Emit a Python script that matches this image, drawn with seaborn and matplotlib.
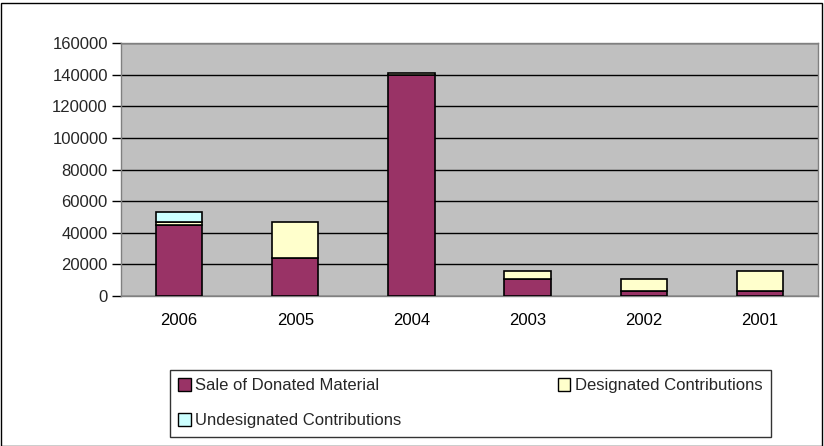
import matplotlib
matplotlib.use("Agg")
import matplotlib.pyplot as plt
import seaborn as sns
import pandas as pd
from matplotlib.patches import Patch, Rectangle

years = ["2006", "2005", "2004", "2003", "2002", "2001"]
sale_donated = [45000, 24000, 139500, 11000, 3000, 3000]
designated = [2000, 23000, 1500, 4500, 8000, 13000]
undesignated = [6000, 0, 0, 0, 0, 0]
y_ticks = [0, 20000, 40000, 60000, 80000, 100000, 120000, 140000, 160000]

sns.set_theme(style="white")
plt.rcParams["font.family"] = ["Liberation Sans", "DejaVu Sans"]

W, H = 824, 446
fig = plt.figure(figsize=(W / 100, H / 100), dpi=100)
ax = fig.add_axes([121 / W, 1 - 296 / H, 697 / W, (296 - 43) / H])

df = pd.DataFrame({"year": years, "sale": sale_donated,
                   "des": designated, "undes": undesignated})
bottom2 = [a + b for a, b in zip(sale_donated, designated)]

colors = {"sale": "#993366", "des": "#FFFFCC", "undes": "#CCFFFF"}
sns.barplot(data=df, x="year", y="sale", order=years, color=colors["sale"],
            width=0.4, edgecolor="black", linewidth=1.2, saturation=1, ax=ax, zorder=3)
sns.barplot(data=df, x="year", y="des", order=years, color=colors["des"],
            bottom=sale_donated, width=0.4, edgecolor="black", linewidth=1.2,
            saturation=1, ax=ax, zorder=3)
sns.barplot(data=df, x="year", y="undes", order=years, color=colors["undes"],
            bottom=bottom2, width=0.4, edgecolor="black", linewidth=1.2,
            saturation=1, ax=ax, zorder=3)
for p in ax.patches:
    if p.get_height() == 0:
        p.set_visible(False)

ax.set_facecolor("#C0C0C0")
ax.set_xlim(-0.5, len(years) - 0.5)
ax.set_ylim(0, 160000)
ax.set_yticks(y_ticks)
ax.set_yticklabels([str(t) for t in y_ticks])
ax.yaxis.grid(True, color="black", linewidth=1, zorder=1)
ax.set_axisbelow(True)
ax.set_xlabel("")
ax.set_ylabel("")

ax.set_xticks(range(len(years)))
ax.set_xticklabels(years)
ax.tick_params(axis="x", which="major", length=0, pad=12, labelsize=12, colors="black")
ax.set_xticks([i - 0.5 for i in range(len(years) + 1)], minor=True)
ax.tick_params(axis="x", which="minor", length=5, width=1, color="black", direction="out")
ax.tick_params(axis="y", length=6.5, width=1, color="black", direction="out",
               labelsize=12, pad=3, left=True)
for s in ax.spines.values():
    s.set_color("#808080")
    s.set_linewidth(1)

handles = [Patch(facecolor=colors["sale"], edgecolor="black", label="Sale of Donated Material"),
           Patch(facecolor=colors["undes"], edgecolor="black", label="Undesignated Contributions"),
           Patch(facecolor=colors["des"], edgecolor="black", label="Designated Contributions")]
leg = fig.legend(handles=handles, ncol=2, loc="upper left",
                 bbox_to_anchor=(170 / W, 1 - 370 / H), fontsize=12,
                 frameon=True, fancybox=False, edgecolor="black",
                 handlelength=0.75, handleheight=0.75, handletextpad=0.25,
                 columnspacing=9.4, borderpad=0.5, labelspacing=1.2,
                 borderaxespad=0)
leg.get_frame().set_linewidth(1)

fig.patches.append(Rectangle((0.5 / W, 0.5 / H), (W - 3) / W, (H - 3) / H,
                             transform=fig.transFigure, fill=False,
                             edgecolor="black", linewidth=1))

fig.savefig("out.png", dpi=100, facecolor="white")
